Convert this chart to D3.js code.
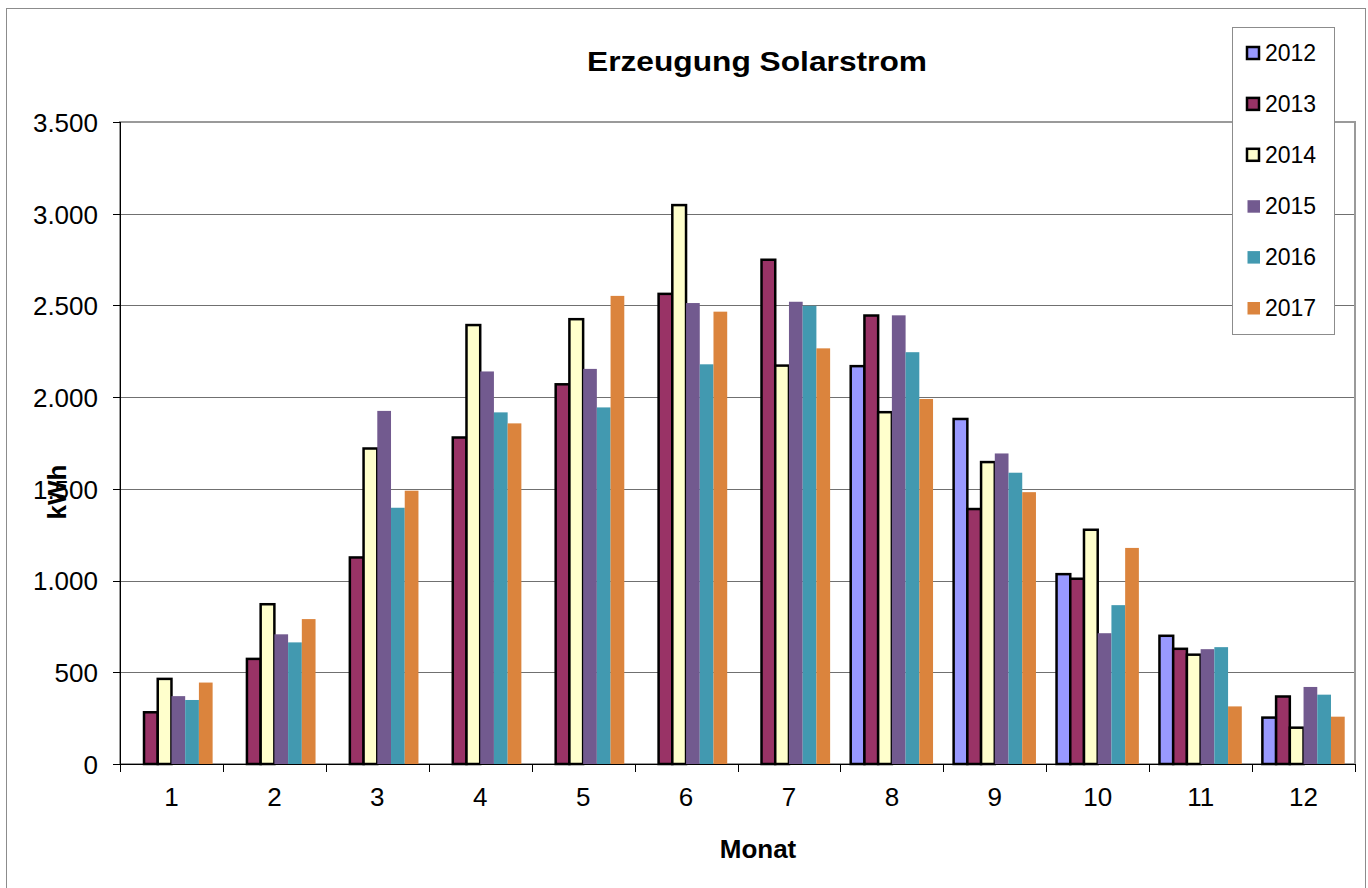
<!DOCTYPE html>
<meta charset="utf-8">
<title>Erzeugung Solarstrom</title>
<head>
<style>
body { margin: 0; background: #fff; font-family: Arial, "Liberation Sans", sans-serif; }
.grid line { stroke: #707070; stroke-width: 1px; shape-rendering: crispEdges; }
.axis path, .axis line { stroke: #000; shape-rendering: crispEdges; }
.axis text { font-size: 26px; fill: #000; font-family: Arial, "Liberation Sans", sans-serif; }
</style>
</head>
<body>
<svg width="1368" height="888"></svg>
<script src="https://cdn.jsdelivr.net/npm/d3@7"></script>
<script>
// monthly values per year (kWh)
var months = ["1","2","3","4","5","6","7","8","9","10","11","12"];
var years = ["2012","2013","2014","2015","2016","2017"];
var v2012 = [null, null, null, null, null, null, null, 2169, 1881, 1035, 699, 253];
var v2013 = [282, 573, 1126, 1780, 2070, 2563, 2749, 2445, 1390, 1010, 628, 368];
var v2014 = [464, 871, 1720, 2393, 2425, 3047, 2172, 1918, 1646, 1277, 596, 198];
var v2015 = [370, 707, 1925, 2140, 2154, 2513, 2520, 2446, 1693, 713, 626, 420];
var v2016 = [349, 663, 1397, 1917, 1944, 2179, 2498, 2245, 1588, 866, 637, 378];
var v2017 = [444, 790, 1490, 1857, 2552, 2466, 2266, 1990, 1482, 1178, 314, 258];
var yTicks = [0, 500, 1000, 1500, 2000, 2500, 3000, 3500];

var seriesVals = [v2012, v2013, v2014, v2015, v2016, v2017];
var fills = ["#9999ff", "#993366", "#ffffcc", "#725a8f", "#4299b0", "#db843d"];
var outlined = [true, true, true, false, false, false];

var svg = d3.select("svg"),
    margin = {top: 122, right: 13, bottom: 124, left: 120},
    width = +svg.attr("width") - margin.left - margin.right,
    height = +svg.attr("height") - margin.top - margin.bottom;

// chart area border
svg.append("rect")
    .attr("x", 6.5).attr("y", 8.5)
    .attr("width", 1359).attr("height", 885)
    .attr("fill", "#fff")
    .attr("stroke", "#8c8c8c");

var g = svg.append("g").attr("transform", "translate(" + margin.left + "," + margin.top + ")");

var x0 = d3.scaleBand().domain(months).range([0, width]).paddingInner(0).paddingOuter(0);
// 6 bars + 150% gap
var bw = x0.bandwidth() / 7.5;
var x1 = d3.scaleBand().domain(years).range([bw * 0.75, bw * 6.75]);
var y = d3.scaleLinear().domain([0, 3500]).range([height, 0]);

var de = d3.formatLocale({decimal: ",", thousands: ".", grouping: [3], currency: ["", "€"]});
var fmt = de.format(",");

// gridlines
g.append("g").attr("class", "grid")
  .selectAll("line")
  .data(yTicks.slice(1))
  .enter().append("line")
    .attr("x1", 0).attr("x2", width)
    .attr("y1", function(d) { return Math.round(y(d)) + 0.5; })
    .attr("y2", function(d) { return Math.round(y(d)) + 0.5; });

// plot area border (gray)
g.append("rect")
    .attr("x", 0).attr("y", 0)
    .attr("width", width).attr("height", height)
    .attr("fill", "none")
    .attr("stroke", "#9a9a9a")
    .attr("stroke-width", 2);

// bars
var rows = [];
months.forEach(function(m, i) {
  years.forEach(function(yr, j) {
    if (seriesVals[j][i] != null) rows.push({month: m, year: yr, idx: j, value: seriesVals[j][i]});
  });
});

g.selectAll(".bar")
  .data(rows)
  .enter().append("rect")
    .attr("class", "bar")
    .attr("x", function(d) { return x0(d.month) + x1(d.year); })
    .attr("width", x1.bandwidth())
    .attr("y", function(d) { return y(d.value); })
    .attr("height", function(d) { return height - y(d.value); })
    .attr("fill", function(d) { return fills[d.idx]; })
    .attr("stroke", function(d) { return outlined[d.idx] ? "#000" : "none"; })
    .attr("stroke-width", 2.5);

// axes
var yAxis = d3.axisLeft(y).tickValues(yTicks).tickFormat(fmt).tickSize(7).tickPadding(15);
g.append("g").attr("class", "axis axis--y")
    .call(yAxis)
    .call(function(s) { s.selectAll("text").attr("dy", "0.36em"); });

var xAxis = d3.axisBottom(x0).tickSize(0).tickPadding(17);
var xg = g.append("g").attr("class", "axis axis--x")
    .attr("transform", "translate(0," + height + ")")
    .call(xAxis);
xg.select(".domain").attr("d", "M-7,0.5H" + width);
xg.selectAll("text").attr("dy", "0.95em");
// category boundary ticks
xg.selectAll(".bound")
  .data(d3.range(months.length + 1))
  .enter().append("line")
    .attr("class", "bound")
    .attr("x1", function(i) { return Math.round(i * x0.step()) + 0.5; })
    .attr("x2", function(i) { return Math.round(i * x0.step()) + 0.5; })
    .attr("y1", 0).attr("y2", 8)
    .attr("stroke", "#000");

// titles
svg.append("text")
    .attr("x", 757).attr("y", 71)
    .attr("text-anchor", "middle")
    .attr("textLength", 340)
    .attr("lengthAdjust", "spacingAndGlyphs")
    .style("font", "bold 27px Arial, 'Liberation Sans', sans-serif")
    .text("Erzeugung Solarstrom");

svg.append("text")
    .attr("x", 758).attr("y", 858)
    .attr("text-anchor", "middle")
    .style("font", "bold 26px Arial, 'Liberation Sans', sans-serif")
    .text("Monat");

svg.append("text")
    .attr("transform", "translate(66,492) rotate(-90)")
    .attr("text-anchor", "middle")
    .style("font", "bold 26px Arial, 'Liberation Sans', sans-serif")
    .text("kWh");

// legend
var legend = svg.append("g").attr("transform", "translate(1232,27)");
legend.append("rect")
    .attr("x", 0.5).attr("y", 0.5)
    .attr("width", 102).attr("height", 307)
    .attr("fill", "#fff")
    .attr("stroke", "#8c8c8c");

var item = legend.selectAll(".item")
  .data(years)
  .enter().append("g")
    .attr("class", "item")
    .attr("transform", function(d, i) { return "translate(0," + (34 + i * 50.9) + ")"; });

item.append("rect")
    .attr("x", function(d, i) { return outlined[i] ? 15 : 15.5; })
    .attr("y", function(d, i) { return outlined[i] ? -14 : -13.5; })
    .attr("width", function(d, i) { return outlined[i] ? 12 : 12.5; })
    .attr("height", function(d, i) { return outlined[i] ? 12 : 12.5; })
    .attr("fill", function(d, i) { return fills[i]; })
    .attr("stroke", function(d, i) { return outlined[i] ? "#000" : "none"; })
    .attr("stroke-width", 2.5);

item.append("text")
    .attr("x", 33)
    .attr("y", 0)
    .style("font", "23px Arial, 'Liberation Sans', sans-serif")
    .text(function(d) { return d; });
</script>
</body>
